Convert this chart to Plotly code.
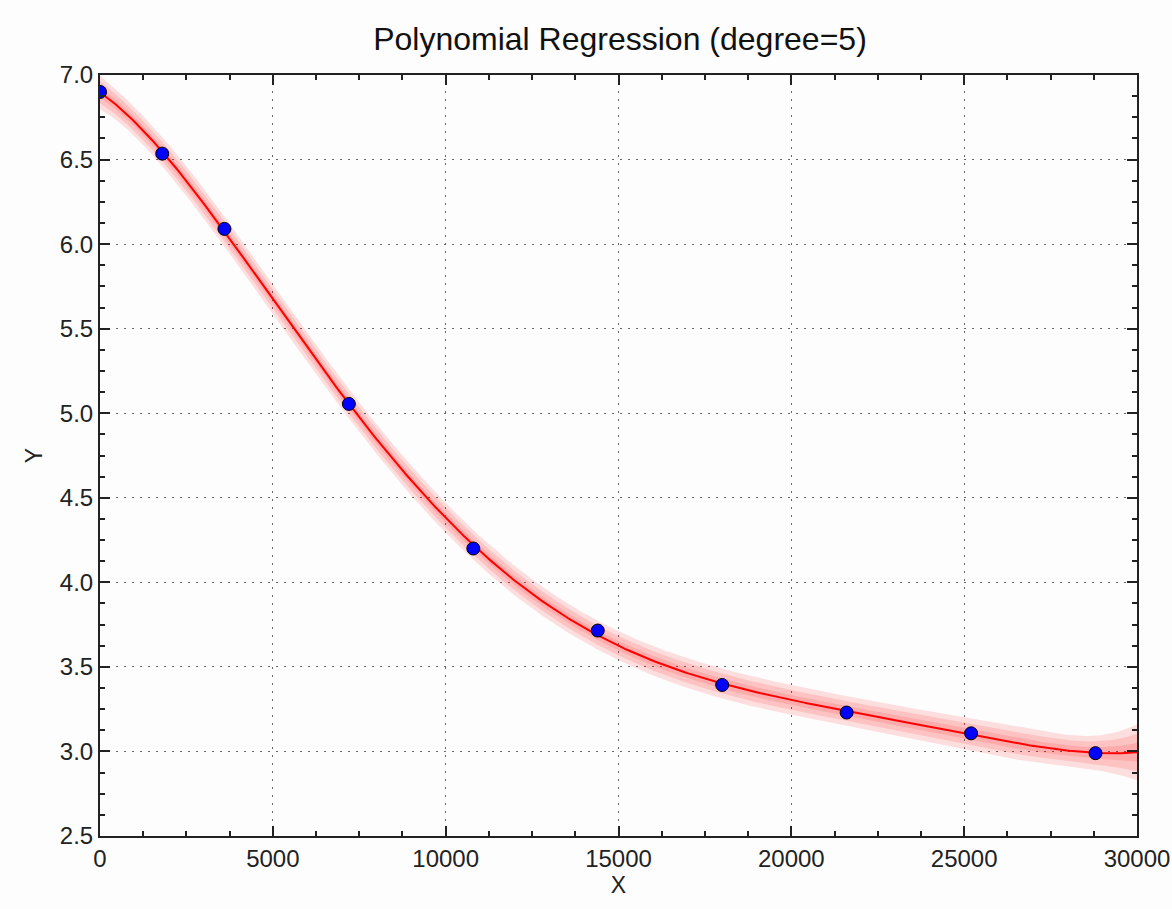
import numpy as np
import plotly.graph_objects as go

# Observed samples
x_obs = [0, 1800, 3600, 7200, 10800, 14400, 18000, 21600, 25200, 28800]
y_obs = [6.90, 6.535, 6.09, 5.055, 4.20, 3.715, 3.393, 3.230, 3.107, 2.990]

degree = 5
x_span = 30000.0
noise_sigma = 0.024          # residual scale used for the shaded bands
band_levels = [1.0, 2.0, 3.0]

# Least-squares polynomial fit on a scaled abscissa
xs = np.asarray(x_obs, dtype=float) / x_span
ys = np.asarray(y_obs, dtype=float)
X = np.vander(xs, degree + 1)
coef, *_ = np.linalg.lstsq(X, ys, rcond=None)
xtx_inv = np.linalg.inv(X.T @ X)

x_fit = np.linspace(0, x_span, 400)
V = np.vander(x_fit / x_span, degree + 1)
y_fit = V @ coef
leverage = np.einsum("ij,jk,ik->i", V, xtx_inv, V)
# prediction-interval half width
se = noise_sigma * np.sqrt(1.0 + leverage)

fig = go.Figure()

for k in reversed(band_levels):
    fig.add_trace(go.Scatter(x=x_fit, y=y_fit + k * se, mode="lines",
                             line=dict(width=0), hoverinfo="skip", showlegend=False))
    fig.add_trace(go.Scatter(x=x_fit, y=y_fit - k * se, mode="lines",
                             line=dict(width=0), fill="tonexty",
                             fillcolor="rgba(255,0,0,0.12)",
                             hoverinfo="skip", showlegend=False))

fig.add_trace(go.Scatter(x=x_fit, y=y_fit, mode="lines",
                         line=dict(color="red", width=2), showlegend=False))

fig.add_trace(go.Scatter(x=x_obs, y=y_obs, mode="markers",
                         marker=dict(color="blue", size=13,
                                     line=dict(color="black", width=1)),
                         showlegend=False))

font_family = "Liberation Sans, Arial, sans-serif"
axis_common = dict(
    showline=True, linecolor="#222", linewidth=2, mirror="ticks",
    ticks="inside", ticklen=10, tickwidth=1.5, tickcolor="#222",
    showgrid=True, gridcolor="#666", griddash="2px,6px", gridwidth=1.2,
    zeroline=False, automargin=False,
    tickfont=dict(family=font_family, size=24, color="#222"),
    title_font=dict(family=font_family, size=23, color="#222"),
)

fig.update_xaxes(range=[0, 30000], tickvals=[0, 5000, 10000, 15000, 20000, 25000, 30000],
                 ticktext=["0", "5000", "10000", "15000", "20000", "25000", "30000"],
                 minor=dict(ticks="inside", dtick=1250, tick0=0, ticklen=5,
                            tickwidth=1.5, tickcolor="#222", showgrid=False),
                 title_text="X", title_standoff=4, **axis_common)
fig.update_yaxes(range=[2.5, 7.0], tickvals=[2.5, 3.0, 3.5, 4.0, 4.5, 5.0, 5.5, 6.0, 6.5, 7.0],
                 ticktext=["2.5", "3.0", "3.5", "4.0", "4.5", "5.0", "5.5", "6.0", "6.5", "7.0"],
                 minor=dict(ticks="inside", dtick=0.125, tick0=2.5, ticklen=5,
                            tickwidth=1.5, tickcolor="#222", showgrid=False),
                 title_text="Y", title_standoff=11, **axis_common)

fig.update_layout(
    width=1172, height=909,
    margin=dict(l=100, r=35, t=75, b=73),
    paper_bgcolor="#fdfdfd", plot_bgcolor="#fdfdfd",
    title=dict(text="Polynomial Regression (degree=5)", x=0.529, xanchor="center",
               y=0.957, yanchor="middle",
               font=dict(family=font_family, size=32, color="#111")),
)

fig.write_html("out.html")
